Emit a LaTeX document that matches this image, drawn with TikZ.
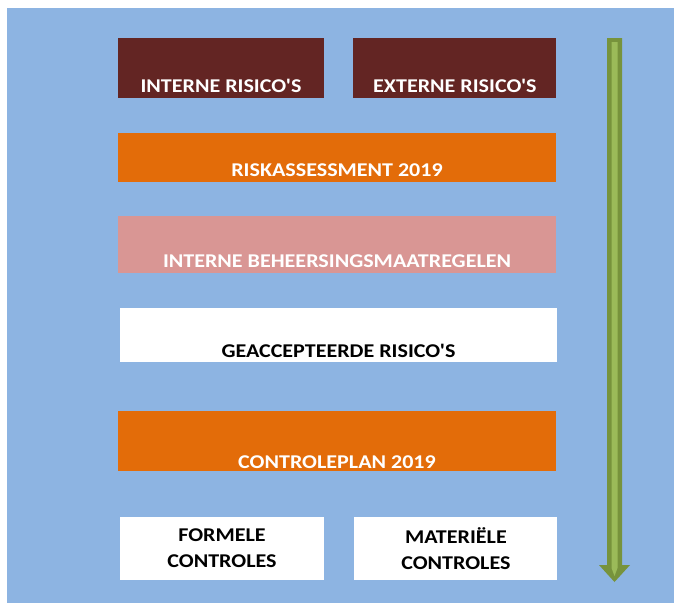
\documentclass[tikz,border=0pt]{standalone}
\usepackage{xcolor}
\usepackage{fontspec}
\setmainfont{Carlito}
\newfontfamily\boxfont[FakeStretch=1.13]{Carlito}
\definecolor{canvasblue}{RGB}{141, 180, 226}
\definecolor{riskred}{RGB}{99, 37, 35}
\definecolor{assessorange}{RGB}{227, 108, 9}
\definecolor{measurepink}{RGB}{217, 150, 148}
\definecolor{flowdark}{RGB}{119, 147, 60}
\definecolor{flowlight}{RGB}{155, 187, 89}
\usepackage{tikz}
\usetikzlibrary{positioning,calc}

\begin{document}
\begin{tikzpicture}[
    x=1pt, y=1pt,
    node distance=34pt,
    box/.style={rectangle, inner sep=0pt, align=center, text=white, font=\boxfont\bfseries\fontsize{19.5}{26}\selectfont},
    riskbox/.style={box, fill=riskred, minimum height=60pt, text height=48pt, text depth=0pt},
    widebox/.style={box, minimum width=438pt, text depth=0pt},
    controlbox/.style={box, fill=white, text=black, minimum width=204pt, minimum height=63pt}
]

% Canvas
\useasboundingbox (0,0) rectangle (674,-603);
\fill[white] (0,0) rectangle (674,-603);
\fill[canvasblue] (7,-8) rectangle (674,-603);

% Risks
\node[riskbox, minimum width=206pt] (intern) at (221,-68) {INTERNE RISICO'S};
\node[riskbox, minimum width=203pt, right=29pt of intern] (extern) {EXTERNE RISICO'S};

% Steps
\node[widebox, fill=assessorange, minimum height=49pt, text height=37pt, below=35pt of intern.south west, anchor=north west] (assess) {RISKASSESSMENT 2019};
\node[widebox, fill=measurepink, minimum height=57pt, text height=47pt, below=33pt of assess] (measures) {INTERNE BEHEERSINGSMAATREGELEN};
\node[widebox, fill=white, text=black, minimum width=437pt, minimum height=54pt, text height=44pt, below=35pt of measures, xshift=1.5pt] (accepted) {GEACCEPTEERDE RISICO'S};
\node[widebox, fill=assessorange, minimum height=60pt, text height=55pt, below=48pt of accepted, xshift=-1.5pt] (plan) {CONTROLEPLAN 2019};

% Controls
\node[controlbox, below=46pt of plan.south west, anchor=north west, xshift=2pt] (formal) {FORMELE\\CONTROLES};
\node[controlbox, minimum width=203pt, right=30pt of formal] (material) {MATERIËLE\\CONTROLES};

% Arrow
\coordinate (flowtop) at (614.5,-38);
\coordinate (flowend) at (614.5,-582);
\fill[flowdark] ($(flowtop)+(-7.5,0)$) -- ($(flowtop)+(7.5,0)$) -- ($(flowend)+(7.5,17)$) -- ($(flowend)+(15.5,17)$)
    -- (flowend) -- ($(flowend)+(-15.5,17)$) -- ($(flowend)+(-7.5,17)$) -- cycle;
\fill[flowlight] ($(flowtop)+(-3,-4)$) -- ($(flowtop)+(3,-4)$) -- ($(flowend)+(3,14)$)
    -- ($(flowend)+(0,6)$) -- ($(flowend)+(-3,14)$) -- cycle;

\end{tikzpicture}
\end{document}
